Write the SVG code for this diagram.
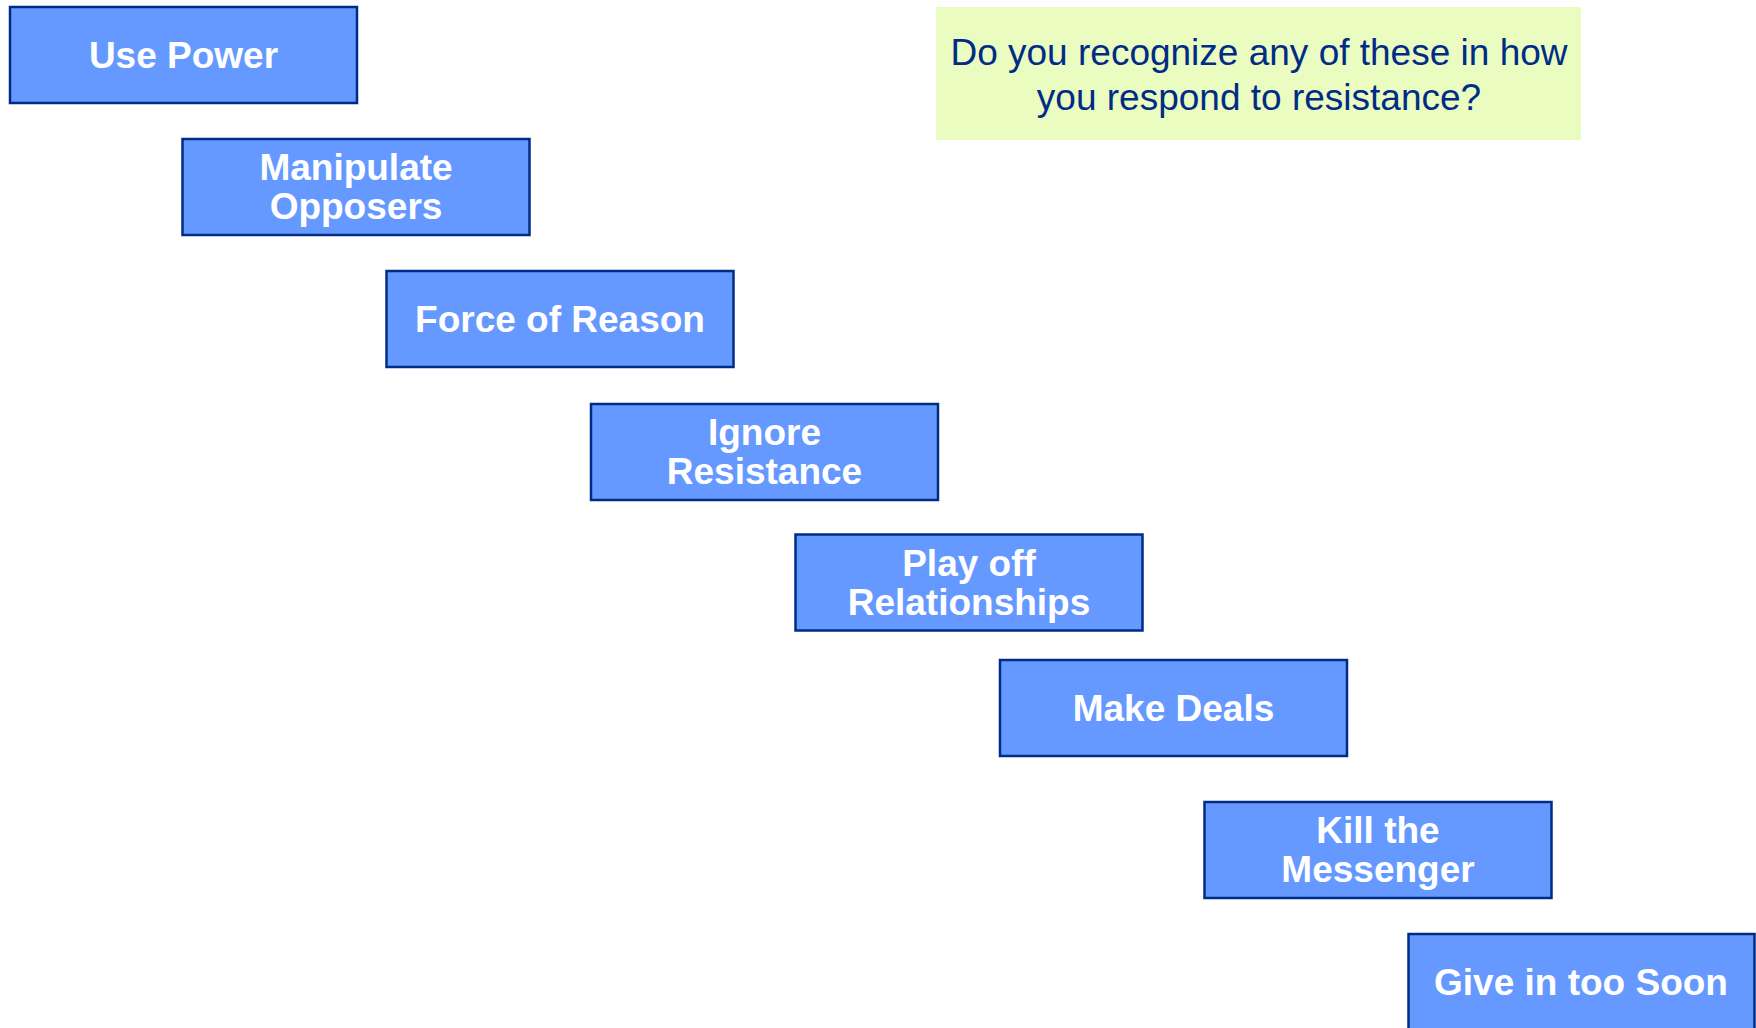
<svg xmlns="http://www.w3.org/2000/svg" width="1756" height="1028" viewBox="0 0 1756 1028">
<style>
.box{fill:#6699FF;stroke:#002C86;stroke-width:2.5}
.lbl{font-family:"Liberation Sans",Arial,sans-serif;font-weight:bold;font-size:37px;fill:#FFFFFF;text-anchor:middle}
.q{font-family:"Liberation Sans",Arial,sans-serif;font-size:37px;fill:#002C86;text-anchor:middle}
</style>
<rect width="1756" height="1028" fill="#FFFFFF"/>
<g id="question">
<rect x="936" y="7" width="645" height="133" fill="#EAFCC0"/>
<text class="q" x="1259" y="65">Do you recognize any of these in how</text>
<text class="q" x="1259" y="110">you respond to resistance?</text>
</g>
<g id="use-power">
<rect class="box" x="10" y="7" width="347" height="96"/>
<text class="lbl" x="183.5" y="68">Use Power</text>
</g>
<g id="manipulate-opposers">
<rect class="box" x="182.5" y="139" width="347" height="96"/>
<text class="lbl" x="356" y="180">Manipulate</text>
<text class="lbl" x="356" y="219">Opposers</text>
</g>
<g id="force-of-reason">
<rect class="box" x="386.5" y="271" width="347" height="96"/>
<text class="lbl" x="560" y="332">Force of Reason</text>
</g>
<g id="ignore-resistance">
<rect class="box" x="591" y="404" width="347" height="96"/>
<text class="lbl" x="764.5" y="445">Ignore</text>
<text class="lbl" x="764.5" y="484">Resistance</text>
</g>
<g id="play-off-relationships">
<rect class="box" x="795.5" y="534.5" width="347" height="96"/>
<text class="lbl" x="969" y="575.5">Play off</text>
<text class="lbl" x="969" y="614.5">Relationships</text>
</g>
<g id="make-deals">
<rect class="box" x="1000" y="660" width="347" height="96"/>
<text class="lbl" x="1173.5" y="721">Make Deals</text>
</g>
<g id="kill-the-messenger">
<rect class="box" x="1204.5" y="802" width="347" height="96"/>
<text class="lbl" x="1378" y="843">Kill the</text>
<text class="lbl" x="1378" y="882">Messenger</text>
</g>
<g id="give-in-too-soon">
<rect class="box" x="1408.5" y="934" width="346" height="100"/>
<text class="lbl" x="1581" y="995">Give in too Soon</text>
</g>
<g id="connectors"></g>
</svg>
